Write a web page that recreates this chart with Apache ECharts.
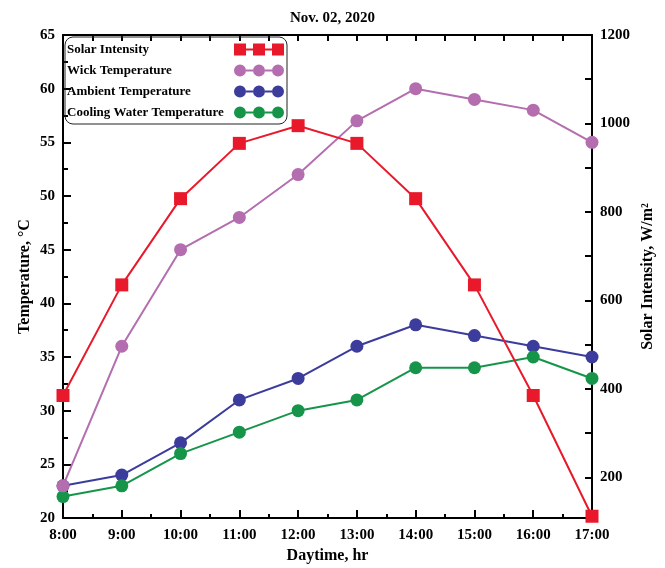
<!DOCTYPE html>
<html>
<head>
<meta charset="utf-8">
<script src="https://cdn.jsdelivr.net/npm/echarts@6/dist/echarts.min.js"></script>
<style>
  html, body { margin: 0; padding: 0; background: #fff; }
  #main { width: 665px; height: 568px; }
</style>
</head>
<body>
<div id="main"></div>
<script>
  // hours of the day (8:00 .. 17:00)
  var hours = [8, 9, 10, 11, 12, 13, 14, 15, 16, 17];
  // W/m2, right axis
  var solarIntensity = [385, 635, 830, 955, 995, 955, 830, 635, 385, 112];
  // deg C, left axis
  var wickTemp = [23, 36, 45, 48, 52, 57, 60, 59, 58, 55];
  var ambientTemp = [23, 24, 27, 31, 33, 36, 38, 37, 36, 35];
  var coolingTemp = [22, 23, 26, 28, 30, 31, 34, 34, 35, 33];

  var rightLabels = [200, 400, 600, 800, 1000, 1200];
  var rightTicks = [200, 300, 400, 500, 600, 700, 800, 900, 1000, 1100, 1200];

  var serif = 'Liberation Serif';

  function pairs(vals) {
    return hours.map(function (h, i) { return [h, vals[i]]; });
  }

  var squares = 'path://M0,0h12v12h-12z M12,5h7v2h-7z M19,0h12v12h-12z M31,5h7v2h-7z M38,0h12v12h-12z';
  var circles = 'path://M0,6a6,6 0 1,1 12,0a6,6 0 1,1 -12,0z M12,5h7v2h-7z M19,6a6,6 0 1,1 12,0a6,6 0 1,1 -12,0z M31,5h7v2h-7z M38,6a6,6 0 1,1 12,0a6,6 0 1,1 -12,0z';

  var axisLine = { show: true, lineStyle: { color: '#000', width: 2 } };
  var labelFont = { color: '#000', fontFamily: serif, fontWeight: 'bold', fontSize: 15 };

  var myChart = echarts.init(document.getElementById('main'));
  var option = {
    animation: false,
    title: {
      text: 'Nov. 02, 2020',
      left: 'center',
      top: 6,
      textStyle: { color: '#000', fontFamily: serif, fontWeight: 'bold', fontSize: 15 }
    },
    grid: { left: 63, right: 73, top: 35, bottom: 50, outerBoundsMode: 'none', containLabel: false },
    legend: {
      orient: 'vertical',
      left: 65,
      top: 37,
      align: 'right',
      itemWidth: 50,
      itemHeight: 12,
      itemGap: 8,
      padding: [6, 3, 5, 2],
      borderColor: '#222',
      borderWidth: 1,
      borderRadius: 8,
      formatter: function (name) { return '{t|' + name + '}'; },
      textStyle: {
        rich: {
          t: { width: 162, align: 'left', color: '#000', fontFamily: serif, fontWeight: 'bold', fontSize: 13 }
        }
      },
      data: [
        { name: 'Solar Intensity', icon: squares },
        { name: 'Wick Temperature', icon: circles },
        { name: 'Ambient Temperature', icon: circles },
        { name: 'Cooling Water Temperature', icon: circles }
      ]
    },
    xAxis: [
      {
        type: 'value',
        min: 8,
        max: 17,
        interval: 1,
        name: 'Daytime, hr',
        nameLocation: 'middle',
        nameGap: 30,
        nameTextStyle: { color: '#000', fontFamily: serif, fontWeight: 'bold', fontSize: 16 },
        axisLine: axisLine,
        axisTick: { inside: true, length: 8, lineStyle: { color: '#000', width: 2 } },
        minorTick: { show: true, splitNumber: 2, length: 4, lineStyle: { color: '#000', width: 2 } },
        axisLabel: Object.assign({ margin: 10, formatter: function (v) { return v + ':00'; } }, labelFont),
        splitLine: { show: false }
      },
      {
        type: 'value',
        position: 'top',
        min: 8,
        max: 17,
        interval: 0.5,
        axisLine: axisLine,
        axisTick: { inside: true, length: 6, lineStyle: { color: '#000', width: 2 } },
        axisLabel: { show: false },
        splitLine: { show: false }
      }
    ],
    yAxis: [
      {
        type: 'value',
        min: 20,
        max: 65,
        interval: 5,
        name: 'Temperature, °C',
        nameLocation: 'middle',
        nameGap: 30,
        nameMoveOverlap: false,
        nameTextStyle: { color: '#000', fontFamily: serif, fontWeight: 'bold', fontSize: 16 },
        axisLine: axisLine,
        axisTick: { inside: true, length: 8, lineStyle: { color: '#000', width: 2 } },
        minorTick: { show: true, splitNumber: 2, length: 5, lineStyle: { color: '#000', width: 2 } },
        axisLabel: Object.assign({ margin: 8 }, labelFont),
        splitLine: { show: false }
      },
      {
        type: 'value',
        position: 'right',
        min: 108,
        max: 1200,
        name: 'Solar Intensity, W/m²',
        nameLocation: 'middle',
        nameGap: 48,
        nameMoveOverlap: false,
        nameTextStyle: { color: '#000', fontFamily: serif, fontWeight: 'bold', fontSize: 16 },
        axisLine: axisLine,
        axisTick: { inside: true, length: 7, customValues: rightTicks, lineStyle: { color: '#000', width: 2 } },
        axisLabel: Object.assign({ margin: 8, customValues: rightLabels, formatter: function (v) { return String(v); } }, labelFont),
        splitLine: { show: false }
      }
    ],
    series: [
      {
        name: 'Ambient Temperature',
        type: 'line',
        yAxisIndex: 0,
        data: pairs(ambientTemp),
        symbol: 'circle',
        symbolSize: 13,
        itemStyle: { color: '#3b3c9c' },
        lineStyle: { color: '#3b3c9c', width: 2 }
      },
      {
        name: 'Cooling Water Temperature',
        type: 'line',
        yAxisIndex: 0,
        data: pairs(coolingTemp),
        symbol: 'circle',
        symbolSize: 13,
        itemStyle: { color: '#16954a' },
        lineStyle: { color: '#16954a', width: 2 }
      },
      {
        name: 'Wick Temperature',
        type: 'line',
        yAxisIndex: 0,
        data: pairs(wickTemp),
        symbol: 'circle',
        symbolSize: 13,
        itemStyle: { color: '#b46dae' },
        lineStyle: { color: '#b46dae', width: 2 }
      },
      {
        name: 'Solar Intensity',
        type: 'line',
        yAxisIndex: 1,
        data: pairs(solarIntensity),
        symbol: 'rect',
        symbolSize: 13,
        itemStyle: { color: '#e8192a' },
        lineStyle: { color: '#e8192a', width: 2 }
      }
    ]
  };
  myChart.setOption(option);
</script>
</body>
</html>
